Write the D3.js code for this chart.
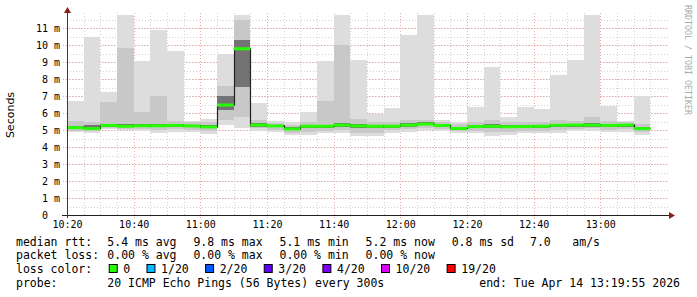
<!DOCTYPE html>
<html>
<head>
<meta charset="utf-8">
<script src="https://cdn.jsdelivr.net/npm/d3@7"></script>
<style>
  html, body { margin: 0; padding: 0; background: #fff; }
  svg text { font-family: "DejaVu Sans Mono", monospace; }
</style>
</head>
<body>
<div class="chart"></div>
<script>
// 5 minute bins, start times
var binStarts = ["10:20","10:25","10:30","10:35","10:40","10:45","10:50","10:55","11:00","11:05",
  "11:10","11:15","11:20","11:25","11:30","11:35","11:40","11:45","11:50","11:55",
  "12:00","12:05","12:10","12:15","12:20","12:25","12:30","12:35","12:40","12:45",
  "12:50","12:55","13:00","13:05","13:10"];

// rtt in ms
var rttMin = [4.86,4.84,5.05,5.00,4.95,4.85,4.90,4.88,4.75,5.29,5.12,4.96,4.90,4.73,4.73,4.80,4.80,4.65,4.62,4.85,
  4.88,5.00,4.92,4.80,4.80,4.65,4.73,4.80,4.80,4.82,4.96,4.96,4.86,4.90,4.73];
var rttP10 = [4.97,4.95,5.12,5.08,5.05,5.00,5.05,5.02,4.92,5.60,5.78,5.10,5.00,4.85,4.90,4.95,4.98,4.85,4.85,5.00,
  5.05,5.12,5.05,4.92,4.95,4.88,4.90,4.95,4.95,5.00,5.08,5.10,5.02,5.05,4.88];
var rttP30 = [5.07,5.03,5.20,5.15,5.17,5.17,5.20,5.17,5.10,6.18,7.55,5.20,5.15,4.98,5.12,5.13,5.20,5.12,5.12,5.14,
  5.20,5.27,5.19,5.02,5.12,5.12,5.10,5.12,5.13,5.18,5.20,5.20,5.19,5.20,5.00];
var rttMedian = [5.14,5.08,5.27,5.22,5.25,5.25,5.27,5.24,5.18,6.47,9.78,5.29,5.24,5.06,5.22,5.22,5.29,5.24,5.22,5.22,
  5.29,5.35,5.27,5.09,5.20,5.22,5.19,5.20,5.22,5.28,5.29,5.29,5.27,5.29,5.08];
var rttP70 = [5.24,5.30,5.38,5.33,5.36,5.33,5.35,5.32,5.30,7.00,10.30,5.40,5.32,5.15,5.32,5.32,5.40,5.36,5.32,5.32,
  5.40,5.45,5.36,5.20,5.30,5.34,5.30,5.30,5.32,5.38,5.38,5.40,5.36,5.38,5.18];
var rttP90 = [5.55,5.45,6.66,9.84,6.06,7.00,5.55,5.45,5.45,7.60,11.47,5.60,5.42,5.30,5.50,6.72,10.00,5.66,5.50,5.50,
  5.60,5.60,5.50,5.35,5.50,5.60,5.50,5.50,5.50,5.60,5.55,5.78,5.55,5.48,5.35];
var rttMax = [6.72,10.45,7.25,12.00,9.06,10.88,9.65,5.55,5.63,9.45,12.00,6.60,5.51,5.47,6.06,9.06,12.00,9.12,5.96,6.30,
  10.59,12.00,5.61,5.47,6.37,8.71,5.78,6.37,6.21,8.24,9.12,12.00,6.43,5.55,7.00];

var timeTicks = ["10:20","10:40","11:00","11:20","11:40","12:00","12:20","12:40","13:00"];
var yTicks = [0,1,2,3,4,5,6,7,8,9,10,11];
var yTickLabels = ["0\u00a0\u00a0","1 m","2 m","3 m","4 m","5 m","6 m","7 m","8 m","9 m","10 m","11 m"];

var rttStatValues = ["5.4","9.8","5.1","5.2","0.8"];
var rttStatNames = ["avg","max","min","now","sd"];
var lossStatValues = ["0.00","0.00","0.00","0.00"];
var lossStatNames = ["avg","max","min","now"];
var lossLabels = ["0","1/20","2/20","3/20","4/20","10/20","19/20"];
var lossColors = ["#26ff00","#00b8ff","#0059ff","#5e00ff","#7e00ff","#dd00ff","#ff0000"];

var width = 697, height = 297;
var svg = d3.select('.chart').append('svg').attr('width', width).attr('height', height);
var parse = d3.timeParse("%H:%M");

var x = d3.scaleTime().domain([parse("10:20"), parse("13:20")]).range([67, 667]);
var y = d3.scaleLinear().domain([0, 11.765]).range([215, 15]);
var binEnd = function(s){ return d3.timeMinute.offset(parse(s), 5); };

// grid
var minorT = d3.timeMinute.every(5).range(parse("10:25"), parse("13:20"));
svg.append('g').selectAll('line').data(minorT).enter().append('line')
  .attr('x1', function(d){ return Math.round(x(d)) + 0.5; })
  .attr('x2', function(d){ return Math.round(x(d)) + 0.5; })
  .attr('y1', 13).attr('y2', 215)
  .attr('stroke', '#d2d2d2').attr('stroke-dasharray', '1,2');
var minorY = d3.range(0.5, 11.6, 0.5);
svg.append('g').selectAll('line').data(minorY).enter().append('line')
  .attr('x1', 67).attr('x2', 669)
  .attr('y1', function(d){ return Math.round(y(d)) + 0.5; })
  .attr('y2', function(d){ return Math.round(y(d)) + 0.5; })
  .attr('stroke', '#d2d2d2').attr('stroke-dasharray', '1,2');
svg.append('g').selectAll('line').data(timeTicks.slice(1)).enter().append('line')
  .attr('x1', function(d){ return Math.round(x(parse(d))) + 0.5; })
  .attr('x2', function(d){ return Math.round(x(parse(d))) + 0.5; })
  .attr('y1', 13).attr('y2', 218)
  .attr('stroke', '#eda6a6').attr('stroke-dasharray', '1,2');
svg.append('g').selectAll('line').data(yTicks.slice(1)).enter().append('line')
  .attr('x1', 63).attr('x2', 669)
  .attr('y1', function(d){ return Math.round(y(d)) + 0.5; })
  .attr('y2', function(d){ return Math.round(y(d)) + 0.5; })
  .attr('stroke', '#eda6a6').attr('stroke-dasharray', '1,2');

// smoke
svg.append('clipPath').attr('id', 'plot').append('rect')
  .attr('x', 67).attr('y', 15).attr('width', 600).attr('height', 200);
var smoke = svg.append('g').attr('clip-path', 'url(#plot)');
var bands = [[rttMin, rttMax, '#dddddd'], [rttP10, rttP90, '#c8c8c8'], [rttP30, rttP70, '#737373']];
bands.forEach(function(b){
  smoke.append('g').selectAll('rect').data(binStarts).enter().append('rect')
    .attr('x', function(d){ return x(parse(d)); })
    .attr('width', function(d){ return x(binEnd(d)) - x(parse(d)); })
    .attr('y', function(d, i){ return y(b[1][i]); })
    .attr('height', function(d, i){ return y(b[0][i]) - y(b[1][i]); })
    .attr('fill', b[2]).attr('shape-rendering', 'crispEdges');
});

// median step line + loss coloured band
var pts = [];
binStarts.forEach(function(d, i){
  pts.push([parse(d), rttMedian[i]]);
  pts.push([binEnd(d), rttMedian[i]]);
});
smoke.append('path')
  .attr('d', d3.line().x(function(p){ return Math.round(x(p[0])) + 0.5; }).y(function(p){ return y(p[1]); })(pts))
  .attr('fill', 'none').attr('stroke', '#202020').attr('stroke-width', 1.2);
smoke.append('g').selectAll('rect').data(binStarts).enter().append('rect')
  .attr('x', function(d){ return x(parse(d)); })
  .attr('width', function(d){ return x(binEnd(d)) - x(parse(d)); })
  .attr('y', function(d, i){ return y(rttMedian[i]) - 1.5; })
  .attr('height', 3)
  .attr('fill', lossColors[0]);

// axes
var yAxis = d3.axisLeft(y).tickValues(yTicks).tickSize(0).tickPadding(7)
  .tickFormat(function(d, i){ return yTickLabels[i]; });
var gy = svg.append('g').attr('transform', 'translate(67,0)').call(yAxis);
gy.select('.domain').remove();
gy.selectAll('text').attr('font-family', 'DejaVu Sans Mono').attr('font-size', 10).attr('fill', '#000')
  .attr('xml:space', 'preserve');

var xAxis = d3.axisBottom(x).tickValues(timeTicks.map(parse)).tickSize(0).tickPadding(6)
  .tickFormat(d3.timeFormat("%H:%M"));
var gx = svg.append('g').attr('transform', 'translate(0,215)').call(xAxis);
gx.select('.domain').remove();
gx.selectAll('text').attr('font-family', 'DejaVu Sans Mono').attr('font-size', 10).attr('fill', '#000');

svg.append('line').attr('x1', 62).attr('x2', 670).attr('y1', 215.5).attr('y2', 215.5)
  .attr('stroke', '#202020');
svg.append('line').attr('x1', 67.5).attr('x2', 67.5).attr('y1', 218).attr('y2', 11)
  .attr('stroke', '#503030');
svg.append('path').attr('d', 'M669,212 L675,215.5 L669,219 Z').attr('fill', '#8b1c1c');
svg.append('path').attr('d', 'M64,13 L67.5,7 L71,13 Z').attr('fill', '#8b1c1c');

svg.append('text').attr('transform', 'translate(14,115) rotate(-90)')
  .attr('text-anchor', 'middle').attr('font-size', 11)
  .style('font-family', 'DejaVu Sans').text('Seconds');
svg.append('text').attr('transform', 'translate(685,5) rotate(90)')
  .attr('font-size', 8.3).attr('fill', '#aaaaaa').text('RRDTOOL / TOBI OETIKER');

// legend
var fs = 11.5, cw = 6.96;
var leg = svg.append('g').attr('font-size', fs).attr('fill', '#000');
var rows = [245.5, 259, 273, 286.5];
leg.append('text').attr('x', 16).attr('y', rows[0]).text('median rtt:');
rttStatValues.forEach(function(v, i){
  leg.append('text').attr('x', 107.3 + i * 86.1).attr('y', rows[0])
    .text(v + ' ms ' + rttStatNames[i]);
});
leg.append('text').attr('x', 530).attr('y', rows[0]).text('7.0');
leg.append('text').attr('x', 572.3).attr('y', rows[0]).text('am/s');

leg.append('text').attr('x', 16).attr('y', rows[1]).text('packet loss:');
lossStatValues.forEach(function(v, i){
  leg.append('text').attr('x', 107.3 + i * 86.1).attr('y', rows[1])
    .text(v + ' % ' + lossStatNames[i]);
});

leg.append('text').attr('x', 16).attr('y', rows[2]).text('loss color:');
var bx = 108.7;
lossLabels.forEach(function(l, i){
  leg.append('rect').attr('x', bx + 0.5).attr('y', rows[2] - 8.5).attr('width', 8).attr('height', 8)
    .attr('fill', lossColors[i]).attr('stroke', '#000').attr('stroke-width', 1);
  leg.append('text').attr('x', bx + 14.6).attr('y', rows[2]).text(l);
  bx = bx + 14.6 + l.length * cw + 16.2;
});

leg.append('text').attr('x', 16).attr('y', rows[3]).text('probe:');
leg.append('text').attr('x', 107.3).attr('y', rows[3]).text('20 ICMP Echo Pings (56 Bytes) every 300s');
leg.append('text').attr('x', 680).attr('y', rows[3]).attr('text-anchor', 'end')
  .text('end: Tue Apr 14 13:19:55 2026');
</script>
</body>
</html>
